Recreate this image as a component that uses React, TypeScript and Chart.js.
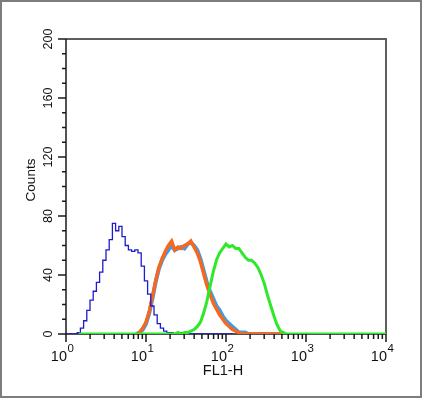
import { useEffect, useRef } from "react";
import { Chart, registerables } from "chart.js";

Chart.register(...registerables);

// Histogram bins: log10(FL1-H) channel centres
const binLog = [
  0, 0.04, 0.08, 0.12, 0.16, 0.2, 0.24, 0.28, 0.32, 0.36,
  0.4, 0.44, 0.48, 0.52, 0.56, 0.6, 0.64, 0.68, 0.72, 0.76,
  0.8, 0.84, 0.88, 0.92, 0.96, 1, 1.04, 1.08, 1.12, 1.16,
  1.2, 1.24, 1.28, 1.32, 1.36, 1.4, 1.44, 1.48, 1.52, 1.56,
  1.6, 1.64, 1.68, 1.72, 1.76, 1.8, 1.84, 1.88, 1.92, 1.96,
  2, 2.04, 2.08, 2.12, 2.16, 2.2, 2.24, 2.28, 2.32, 2.36,
  2.4, 2.44, 2.48, 2.52, 2.56, 2.6, 2.64, 2.68, 2.72, 2.76,
  2.8, 2.84, 2.88, 2.92, 2.96, 3, 3.04, 3.08, 3.12, 3.16,
  3.2, 3.24, 3.28, 3.32, 3.36, 3.4, 3.44, 3.48, 3.52, 3.56,
  3.6, 3.64, 3.68, 3.72, 3.76, 3.8, 3.84, 3.88, 3.92, 3.96,
  4,
];

const N = null;

// Isotype control (dark blue)
const isotypeCounts = [
  0, 0, 0, 0, 1, 4, 9, 16, 23, 29,
  35, 42, 50, 57, 64, 75, 70, 73, 66, 60,
  57, 56, 57, 55, 46, 36, 27, 19, 13, 7,
  4, 2, 1, 1, 0, 0, 1, 0, 0, 0,
  0, 0, 0, 0, 0, 0, 0, 0, 0, 0,
  0, 0, 0, N, N, N, N, N, N, N,
  N, N, N, N, N, N, N, N, N, N,
  N, N, N, N, N, N, N, N, N, N,
  N, N, N, N, N, N, N, N, N, N,
  N, N, N, N, N, N, N, N, N, N,
  N,
];

// Control cells (light blue)
const controlCounts = [
  N, N, N, N, N, N, N, N, N, N,
  N, N, N, N, N, N, N, N, N, N,
  N, N, 0, 1, 3, 7, 14, 24, 35, 44,
  50, 54, 57, 60, 57, 58, 59, 58, 61, 62,
  60, 57, 51, 43, 35, 29, 24, 19, 16, 12,
  9, 7, 5, 3, 1, 1, 1, 0, 0, 0,
  0, 0, 0, 0, 0, 0, 0, 0, 0, N,
  N, N, N, N, N, N, N, N, N, N,
  N, N, N, N, N, N, N, N, N, N,
  N, N, N, N, N, N, N, N, N, N,
  N,
];

// Second control (orange)
const control2Counts = [
  N, N, N, N, N, N, N, N, N, N,
  N, N, N, N, N, N, N, N, N, N,
  N, N, 0, 1, 4, 8, 15, 25, 36, 45,
  51, 56, 60, 63, 57, 59, 58, 60, 61, 63,
  59, 55, 49, 41, 33, 27, 21, 17, 13, 10,
  7, 5, 3, 2, 1, 0, 0, 0, 0, 0,
  0, 0, 0, 0, 0, 0, 0, 0, 0, N,
  N, N, N, N, N, N, N, N, N, N,
  N, N, N, N, N, N, N, N, N, N,
  N, N, N, N, N, N, N, N, N, N,
  N,
];

// Antibody stained cells (green)
const stainedCounts = [
  N, N, N, N, 0, 0, 0, 0, 0, 0,
  0, 0, 0, 0, 0, 0, 0, 0, 0, 0,
  0, 0, 0, 0, 0, 0, 0, 0, 0, 0,
  0, 0, 0, 0, 0, 1, 0, 1, 1, 2,
  3, 5, 8, 14, 22, 32, 42, 50, 55, 58,
  61, 59, 60, 58, 58, 55, 52, 50, 50, 48,
  45, 40, 34, 26, 19, 12, 6, 2, 1, 0,
  0, 0, 0, 0, 0, 0, 0, 0, 0, 0,
  0, 0, 0, 0, 0, 0, 0, 0, 0, 0,
  0, 0, 0, 0, 0, 0, 0, 0, 0, 0,
  0,
];

const yTickLabels = ["0", "40", "80", "120", "160", "200"];
const yTickValues = [0, 40, 80, 120, 160, 200];
const yMinorValues = [10, 20, 30, 50, 60, 70, 90, 100, 110, 130, 140, 150, 170, 180, 190];
const xDecadeExponents = ["0", "1", "2", "3", "4"];
const xDecadeValues = [1, 10, 100, 1000, 10000];
const xMinorMultipliers = [2, 3, 4, 5, 6, 7, 8, 9];

const FONT = '"Liberation Sans", Arial, Helvetica, sans-serif';

function toPoints(counts: (number | null)[]) {
  return binLog.map((l, i) => ({ x: Math.pow(10, l), y: counts[i] }));
}

const axesPlugin = {
  id: "flowAxes",
  beforeDatasetsDraw(chart: any) {
    const { ctx, chartArea: a, scales } = chart;
    const x = scales.x;
    const y = scales.y;
    ctx.save();
    ctx.strokeStyle = "#5e5e5e";
    ctx.lineWidth = 2;
    ctx.beginPath();
    ctx.moveTo(a.left, a.top);
    ctx.lineTo(a.right, a.top);
    ctx.lineTo(a.right, a.bottom);
    ctx.stroke();
    ctx.strokeStyle = "#1a1a1a";
    ctx.lineWidth = 1.5;
    ctx.beginPath();
    ctx.moveTo(a.left, a.top);
    ctx.lineTo(a.left, a.bottom);
    ctx.lineTo(a.right, a.bottom);
    ctx.stroke();
    ctx.lineWidth = 1.5;
    ctx.beginPath();
    yTickValues.forEach((v) => {
      const py = y.getPixelForValue(v);
      ctx.moveTo(a.left - 8, py);
      ctx.lineTo(a.left, py);
    });
    yMinorValues.forEach((v) => {
      const py = y.getPixelForValue(v);
      ctx.moveTo(a.left - 4, py);
      ctx.lineTo(a.left, py);
    });
    xDecadeValues.forEach((v, di) => {
      const px = x.getPixelForValue(v);
      ctx.moveTo(px, a.bottom);
      ctx.lineTo(px, a.bottom + 8);
      if (di < xDecadeValues.length - 1) {
        xMinorMultipliers.forEach((m) => {
          const mx = x.getPixelForValue(v * m);
          ctx.moveTo(mx, a.bottom);
          ctx.lineTo(mx, a.bottom + 5);
        });
      }
    });
    ctx.stroke();
    ctx.restore();
  },
  afterDraw(chart: any) {
    const { ctx, chartArea: a, scales } = chart;
    const x = scales.x;
    const y = scales.y;
    ctx.save();
    ctx.fillStyle = "#111";
    ctx.font = `12.5px ${FONT}`;
    ctx.textAlign = "center";
    ctx.textBaseline = "middle";
    yTickValues.forEach((v, i) => {
      const py = y.getPixelForValue(v);
      ctx.save();
      ctx.translate(49, py);
      ctx.rotate(-Math.PI / 2);
      ctx.fillText(yTickLabels[i], 0, 0);
      ctx.restore();
    });
    ctx.font = `13.5px ${FONT}`;
    ctx.save();
    ctx.translate(31, 180);
    ctx.rotate(-Math.PI / 2);
    ctx.fillText("Counts", 0, 0);
    ctx.restore();
    ctx.textBaseline = "alphabetic";
    xDecadeValues.forEach((v, i) => {
      const px = x.getPixelForValue(v);
      ctx.font = `14.5px ${FONT}`;
      ctx.textAlign = "right";
      ctx.fillText("10", px + 1, 361);
      ctx.font = `11.5px ${FONT}`;
      ctx.textAlign = "left";
      ctx.fillText(xDecadeExponents[i], px + 1.5, 352);
    });
    ctx.font = `14.5px ${FONT}`;
    ctx.textAlign = "center";
    ctx.fillText("FL1-H", (a.left + a.right) / 2 - 3, 375);
    ctx.restore();
  },
};

export default function App() {
  const canvasRef = useRef<HTMLCanvasElement | null>(null);

  useEffect(() => {
    const canvas = canvasRef.current;
    if (!canvas) return;
    const common = { pointRadius: 0, fill: false, spanGaps: false, tension: 0, borderJoinStyle: "miter" as const };
    const chart = new Chart(canvas, {
      type: "line",
      data: {
        datasets: [
          { label: "Stained", data: toPoints(stainedCounts), borderColor: "#2ee82a", borderWidth: 3, ...common },
          { label: "Isotype", data: toPoints(isotypeCounts), borderColor: "#1c1ccc", borderWidth: 1.3, stepped: "middle", ...common },
          { label: "Control 2", data: toPoints(control2Counts), borderColor: "#f8671c", borderWidth: 3.4, ...common },
          { label: "Control", data: toPoints(controlCounts), borderColor: "#3a9de8", borderWidth: 4, ...common },
        ],
      },
      options: {
        animation: false,
        responsive: false,
        maintainAspectRatio: false,
        layout: { padding: { left: 66, top: 39, right: 37, bottom: 64 } },
        plugins: { legend: { display: false }, tooltip: { enabled: false } },
        scales: {
          x: { type: "logarithmic", min: 1, max: 10000, display: false },
          y: { type: "linear", min: 0, max: 200, display: false },
        },
      },
      plugins: [axesPlugin],
    });
    return () => chart.destroy();
  }, []);

  return (
    <div style={{ position: "fixed", left: 0, top: 0, width: 423, height: 398, background: "#fff" }}>
      <canvas ref={canvasRef} width={423} height={398} style={{ position: "absolute", left: 0, top: 0, width: 423, height: 398 }} />
      <div
        style={{
          position: "absolute",
          left: 0,
          top: 0,
          width: 422,
          height: 398,
          boxSizing: "border-box",
          border: "2px solid #7d7d7d",
          pointerEvents: "none",
        }}
      />
    </div>
  );
}
